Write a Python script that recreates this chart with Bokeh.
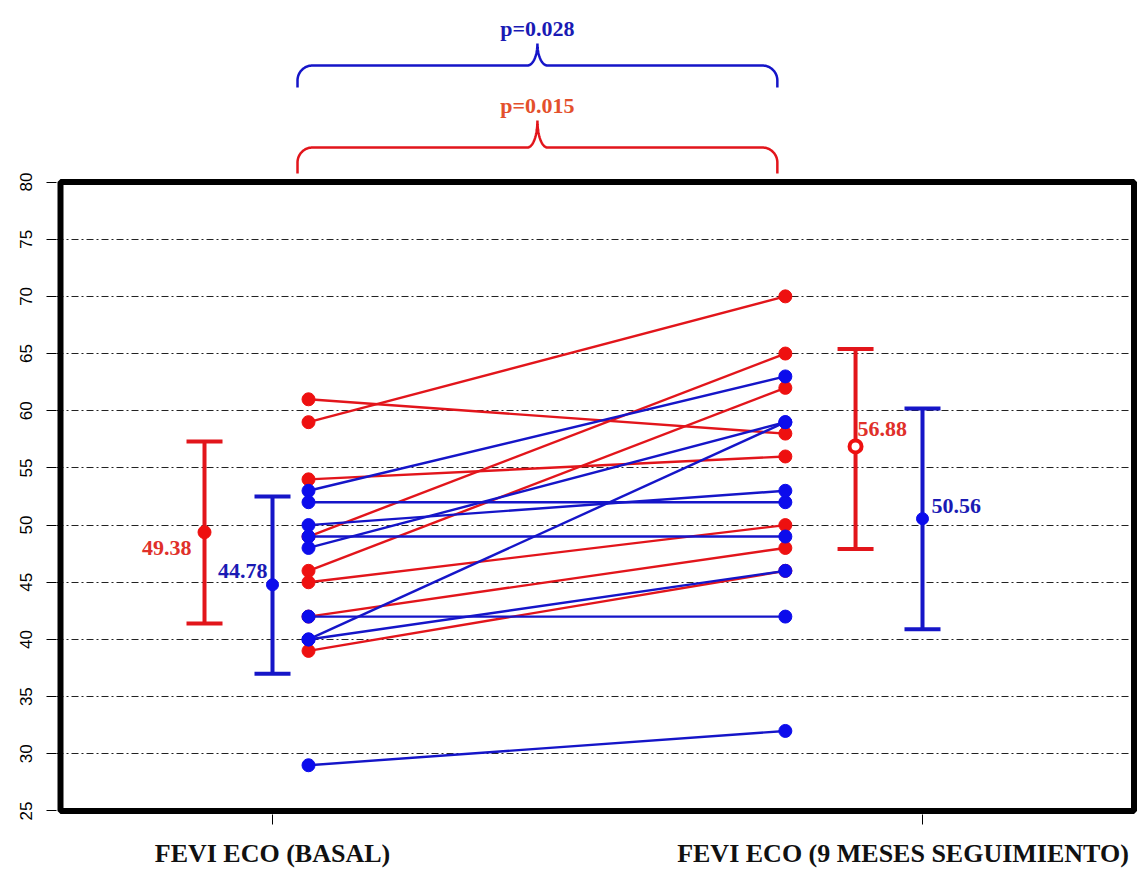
import numpy as np
from bokeh.plotting import figure
from bokeh.models import LinearAxis, FixedTicker, Range1d
from bokeh.core.properties import value
from bokeh.embed import file_html
from bokeh.resources import INLINE

# ---------------- data ----------------
groups = ["FEVI ECO (BASAL)", "FEVI ECO (9 MESES SEGUIMIENTO)"]
red_basal = [61, 59, 54, 49, 46, 45, 42, 39]
red_followup = [58, 70, 56, 65, 62, 50, 48, 46]
blue_basal = [53, 52, 50, 49, 48, 42, 40, 40, 29]
blue_followup = [63, 52, 53, 49, 59, 42, 59, 46, 32]
red_means = [49.38, 56.88]
blue_means = [44.78, 50.56]
red_lower = [41.4, 47.9]
red_upper = [57.3, 65.4]
blue_lower = [37.0, 40.9]
blue_upper = [52.5, 60.2]
red_p = "p=0.015"
blue_p = "p=0.028"
y_ticks = [25, 30, 35, 40, 45, 50, 55, 60, 65, 70, 75, 80]

# ---------------- layout / style constants ----------------
RED_LINE = "#e2151b"
RED_PT = "#ee1010"
BLUE_LINE = "#1515c8"
BLUE_PT = "#0c0cec"
RED_TXT = "#e0302a"
BLUE_TXT = "#1a1ab4"
RED_P_TXT = "#e4502c"

X_GROUP = [1.0, 2.0]
X_PAIR = [1.0554, 1.789]
X_RED_BAR = [0.8954, 1.897]
X_BLUE_BAR = [1.0, 2.0]
X_LABEL_POS = [1.0, 1.97]   # right label shifted left so it fits the page

FRAME_W, FRAME_H = 1081, 814
PX_PER_X = 650.0
PX_PER_Y = 11.436
X0 = 1.0 - 216.0 / PX_PER_X
Y_TOP = 95.872
Y0 = Y_TOP - FRAME_H / PX_PER_Y


def dx(px):
    return px / PX_PER_X


def dy(px):
    return px / PX_PER_Y


def y_at(px_from_top):
    return Y_TOP - px_from_top / PX_PER_Y


p = figure(frame_width=FRAME_W, frame_height=FRAME_H,
           x_range=Range1d(X0, X0 + FRAME_W / PX_PER_X),
           y_range=Range1d(Y0, Y_TOP),
           x_axis_location=None,
           min_border_left=56, min_border_right=0, min_border_top=0, min_border_bottom=55,
           output_backend="svg", toolbar_location=None,
           background_fill_color="white", border_fill_color="white")
p.outline_line_color = None

# y axis
p.yaxis.ticker = FixedTicker(ticks=y_ticks)
p.yaxis.axis_line_color = None
p.yaxis.major_tick_out = 10
p.yaxis.major_tick_in = 0
p.yaxis.major_tick_line_color = "black"
p.yaxis.minor_tick_line_color = None
p.yaxis.major_label_orientation = "vertical"
p.yaxis.major_label_text_font = "Liberation Sans"
p.yaxis.major_label_text_font_size = "17px"
p.yaxis.major_label_text_color = "black"
p.yaxis.major_label_standoff = 14

# grids
p.xgrid.grid_line_color = None
p.ygrid.ticker = FixedTicker(ticks=y_ticks[1:-1])
p.ygrid.grid_line_color = "#222222"
p.ygrid.grid_line_dash = "7 3 2 3"
p.ygrid.grid_line_width = 1

# x axis: labels at (major) label positions, tick marks at the group positions (minor ticks)
xb = LinearAxis(ticker=FixedTicker(ticks=X_LABEL_POS, minor_ticks=X_GROUP),
                major_tick_out=0, major_tick_in=0, major_tick_line_color=None,
                minor_tick_out=10, minor_tick_in=0, minor_tick_line_color="black",
                minor_tick_line_width=1, axis_line_color=None,
                major_label_overrides={X_LABEL_POS[0]: groups[0], X_LABEL_POS[1]: groups[1]},
                major_label_text_font="Liberation Serif", major_label_text_font_style="bold",
                major_label_text_font_size="26px", major_label_text_color="#111111",
                major_label_standoff=14)
p.add_layout(xb, "below")

# ---------------- paired lines ----------------
n_r = len(red_basal)
p.segment(x0=[X_PAIR[0]] * n_r, y0=red_basal, x1=[X_PAIR[1]] * n_r, y1=red_followup,
          line_color=RED_LINE, line_width=2.4)
p.scatter(x=[X_PAIR[0]] * n_r + [X_PAIR[1]] * n_r, y=red_basal + red_followup,
          size=13, marker="circle", fill_color=RED_PT, line_color=RED_PT)

n_b = len(blue_basal)
p.segment(x0=[X_PAIR[0]] * n_b, y0=blue_basal, x1=[X_PAIR[1]] * n_b, y1=blue_followup,
          line_color=BLUE_LINE, line_width=2.4)
p.scatter(x=[X_PAIR[0]] * n_b + [X_PAIR[1]] * n_b, y=blue_basal + blue_followup,
          size=13, marker="circle", fill_color=BLUE_PT, line_color=BLUE_PT)

# ---------------- mean +/- error bars ----------------
CAP = dx(18)
for xs, lo, hi, col in [(X_RED_BAR, red_lower, red_upper, RED_LINE),
                        (X_BLUE_BAR, blue_lower, blue_upper, BLUE_LINE)]:
    p.segment(x0=xs, y0=lo, x1=xs, y1=hi, line_color=col, line_width=4)
    p.segment(x0=[x - CAP for x in xs], y0=lo, x1=[x + CAP for x in xs], y1=lo,
              line_color=col, line_width=4)
    p.segment(x0=[x - CAP for x in xs], y0=hi, x1=[x + CAP for x in xs], y1=hi,
              line_color=col, line_width=4)

p.scatter(x=[X_RED_BAR[0]], y=[red_means[0]], size=13, fill_color=RED_PT, line_color=RED_PT)
p.scatter(x=[X_RED_BAR[1]], y=[red_means[1]], size=12, fill_color="white",
          line_color=RED_PT, line_width=4)
p.scatter(x=X_BLUE_BAR, y=blue_means, size=12, fill_color=BLUE_PT, line_color=BLUE_PT)

lab_font = dict(text_font=value("Liberation Serif"), text_font_style="bold",
                text_font_size="22px", text_baseline="middle")
p.text(x=[X_RED_BAR[0]], y=[red_means[0]], text=[f"{red_means[0]:.2f}"],
       x_offset=-13, y_offset=16, text_align="right", text_color=RED_TXT, **lab_font)
p.text(x=[X_BLUE_BAR[0]], y=[blue_means[0]], text=[f"{blue_means[0]:.2f}"],
       x_offset=-5, y_offset=-14, text_align="right", text_color=BLUE_TXT, **lab_font)
p.text(x=[X_RED_BAR[1]], y=[red_means[1]], text=[f"{red_means[1]:.2f}"],
       x_offset=2, y_offset=-17, text_align="left", text_color=RED_TXT, **lab_font)
p.text(x=[X_BLUE_BAR[1]], y=[blue_means[1]], text=[f"{blue_means[1]:.2f}"],
       x_offset=9, y_offset=-13, text_align="left", text_color=BLUE_TXT, **lab_font)


# ---------------- significance braces ----------------
def brace(xl, xr, y_end, y_bar, y_peak, r_end=15, rx_mid=10):
    xm = 0.5 * (xl + xr)
    rxe, rye = dx(r_end), dy(r_end)
    rxm, rym = dx(rx_mid), y_peak - y_bar
    xs, ys = [xl], [y_end]
    t = np.linspace(np.pi, np.pi / 2, 24)
    xs += list(xl + rxe + rxe * np.cos(t)); ys += list(y_bar - rye + rye * np.sin(t))
    t = np.linspace(-np.pi / 2, 0, 24)
    xs += list(xm - rxm + rxm * np.cos(t)); ys += list(y_bar + rym + rym * np.sin(t))
    t = np.linspace(np.pi, 1.5 * np.pi, 24)
    xs += list(xm + rxm + rxm * np.cos(t)); ys += list(y_bar + rym + rym * np.sin(t))
    t = np.linspace(np.pi / 2, 0, 24)
    xs += list(xr - rxe + rxe * np.cos(t)); ys += list(y_bar - rye + rye * np.sin(t))
    xs.append(xr); ys.append(y_end)
    return xs, ys, xm


br_l = X_PAIR[0] - dx(11)
br_r = X_PAIR[1] - dx(8)

bx, by, bm = brace(br_l, br_r, y_at(87), y_at(65), y_at(43))
p.line(bx, by, line_color=BLUE_LINE, line_width=2.5)
p.text(x=[bm], y=[y_at(28)], text=[blue_p], text_align="center", text_baseline="alphabetic",
       text_font=value("Liberation Serif"), text_font_style="bold", text_font_size="22px",
       text_color=BLUE_TXT)

rx, ry, rm = brace(br_l, br_r, y_at(173), y_at(147), y_at(120))
p.line(rx, ry, line_color=RED_LINE, line_width=2.5)
p.text(x=[rm], y=[y_at(105)], text=[red_p], text_align="center", text_baseline="alphabetic",
       text_font=value("Liberation Serif"), text_font_style="bold", text_font_size="22px",
       text_color=RED_P_TXT)

# ---------------- plot box ----------------
p.quad(left=[X0 + dx(4)], right=[X0 + dx(1077.5)], bottom=[y_ticks[0]], top=[y_ticks[-1]],
       fill_color=None, line_color="black", line_width=6)

open("out.html", "w").write(file_html(p, INLINE))
